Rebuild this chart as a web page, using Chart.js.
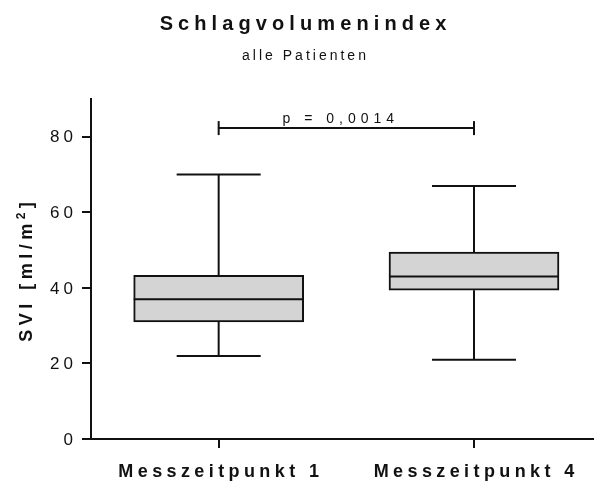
<!DOCTYPE html>
<html>
<head>
<meta charset="utf-8">
<script src="https://cdn.jsdelivr.net/npm/chart.js@4"></script>
<style>
  html, body { margin: 0; padding: 0; background: #fff; }
  #wrap { width: 594px; height: 484px; }
</style>
</head>
<body>
<div id="wrap"><canvas id="chart"></canvas></div>
<script>
// box plot values
const categories = ['Messzeitpunkt 1', 'Messzeitpunkt 4'];
const categoryPos = [1, 2];
const whiskerLow = [22, 21];
const q1 = [31, 39.4];
const median = [37, 43];
const q3 = [43.3, 49.5];
const whiskerHigh = [70, 67];
const yTicks = [0, 20, 40, 60, 80];

const pLabel = 'p = 0,0014';
const pBracketY = 82.3;
const titleText = 'Schlagvolumenindex';
const subtitleText = 'alle Patienten';
const yTitleParts = ['SVI [ml/m', '2', ']'];

const FONT = '"Liberation Sans", Arial, sans-serif';
const INK = '#111';

// canvas text with letter spacing, trailing space removed from the width
function spacedText(ctx, text, x, y, font, spacing, align) {
  ctx.save();
  ctx.font = font;
  ctx.letterSpacing = spacing + 'px';
  const w = ctx.measureText(text).width - spacing;
  let sx = x;
  if (align === 'center') sx = x - w / 2;
  else if (align === 'right') sx = x - w;
  ctx.textAlign = 'left';
  ctx.fillStyle = INK;
  ctx.fillText(text, sx, y);
  ctx.restore();
  return w;
}

function measureSpaced(ctx, text, font, spacing) {
  ctx.save();
  ctx.font = font;
  ctx.letterSpacing = spacing + 'px';
  const w = ctx.measureText(text).width;
  ctx.restore();
  return w;
}

const boxPlotPlugin = {
  id: 'boxPlot',
  afterDatasetsDraw(chart) {
    const {ctx, scales: {x, y}} = chart;
    const capHalf = 42;
    const boxHalf = 85;
    ctx.save();
    ctx.strokeStyle = INK;
    ctx.lineWidth = 2;
    const line = (x1, y1, x2, y2) => {
      ctx.beginPath();
      ctx.moveTo(x1, y1);
      ctx.lineTo(x2, y2);
      ctx.stroke();
    };
    categoryPos.forEach((pos, i) => {
      const cx = x.getPixelForValue(pos);
      // whiskers
      line(cx, y.getPixelForValue(q3[i]), cx, y.getPixelForValue(whiskerHigh[i]));
      line(cx, y.getPixelForValue(q1[i]), cx, y.getPixelForValue(whiskerLow[i]));
      line(cx - capHalf, y.getPixelForValue(whiskerHigh[i]), cx + capHalf, y.getPixelForValue(whiskerHigh[i]));
      line(cx - capHalf, y.getPixelForValue(whiskerLow[i]), cx + capHalf, y.getPixelForValue(whiskerLow[i]));
      // median
      line(cx - boxHalf, y.getPixelForValue(median[i]), cx + boxHalf, y.getPixelForValue(median[i]));
    });

    // significance bracket
    const bx1 = x.getPixelForValue(categoryPos[0]);
    const bx2 = x.getPixelForValue(categoryPos[1]);
    const by = y.getPixelForValue(pBracketY);
    line(bx1, by, bx2, by);
    line(bx1, by - 7, bx1, by + 7);
    line(bx2, by - 7, bx2, by + 7);
    ctx.restore();
    spacedText(ctx, pLabel, (bx1 + bx2) / 2 - 8, by - 5, '14px ' + FONT, 5, 'center');
  },
  afterDraw(chart) {
    const {ctx, scales: {x, y}, chartArea} = chart;
    // titles
    spacedText(ctx, titleText, 303, 30, 'bold 20px ' + FONT, 5.1, 'center');
    spacedText(ctx, subtitleText, 304, 60, '14px ' + FONT, 3, 'center');

    // y tick labels
    ctx.save();
    ctx.textBaseline = 'middle';
    y.ticks.forEach(t => {
      spacedText(ctx, String(t.value), 73, y.getPixelForValue(t.value) + 1, '17px ' + FONT, 4, 'right');
    });
    ctx.restore();

    // x category labels
    categoryPos.forEach((pos, i) => {
      spacedText(ctx, categories[i], x.getPixelForValue(pos), 477, 'bold 18px ' + FONT, 4.4, 'center');
    });

    // y axis title, rotated, with raised 2
    const mainFont = 'bold 18px ' + FONT;
    const supFont = 'bold 12px ' + FONT;
    const sp = 4.5;
    const w0 = measureSpaced(ctx, yTitleParts[0], mainFont, sp);
    const w1 = measureSpaced(ctx, yTitleParts[1], supFont, sp);
    const w2 = measureSpaced(ctx, yTitleParts[2], mainFont, sp) - sp;
    const total = w0 + w1 + w2;
    const cy = (chartArea.top + chartArea.bottom) / 2 + 3;
    ctx.save();
    ctx.translate(32, cy);
    ctx.rotate(-Math.PI / 2);
    let tx = -total / 2;
    spacedText(ctx, yTitleParts[0], tx, 0, mainFont, sp, 'left');
    tx += w0;
    spacedText(ctx, yTitleParts[1], tx, -7, supFont, sp, 'left');
    tx += w1;
    spacedText(ctx, yTitleParts[2], tx, 0, mainFont, sp, 'left');
    ctx.restore();
  }
};

new Chart(document.getElementById('chart'), {
  type: 'bar',
  data: {
    datasets: [
      {
        label: 'Box',
        data: categoryPos.map((pos, i) => ({x: pos, y: [q1[i], q3[i]]})),
        backgroundColor: '#d4d4d4',
        borderColor: INK,
        borderWidth: 2,
        borderSkipped: false,
        barThickness: 170,
      },
    ],
  },
  plugins: [boxPlotPlugin],
  options: {
    responsive: true,
    maintainAspectRatio: false,
    animation: false,
    layout: {
      padding: {top: 99, left: 82, right: 0, bottom: 36},
    },
    plugins: {
      legend: {display: false},
      tooltip: {enabled: false},
    },
    scales: {
      x: {
        type: 'linear',
        offset: false,
        min: 0.5,
        max: 2.47,
        afterBuildTicks: (scale) => {
          scale.ticks = categoryPos.map(v => ({value: v}));
        },
        ticks: {display: false},
        grid: {
          offset: false,
          drawOnChartArea: false,
          drawTicks: true,
          tickLength: 9,
          color: INK,
          lineWidth: 2,
        },
        border: {color: INK, width: 2},
      },
      y: {
        min: 0,
        max: 90,
        afterBuildTicks: (scale) => {
          scale.ticks = yTicks.map(v => ({value: v}));
        },
        ticks: {display: false},
        grid: {
          drawOnChartArea: false,
          drawTicks: true,
          tickLength: 9,
          color: INK,
          lineWidth: 2,
        },
        border: {color: INK, width: 2},
      },
    },
  },
});
</script>
</body>
</html>
